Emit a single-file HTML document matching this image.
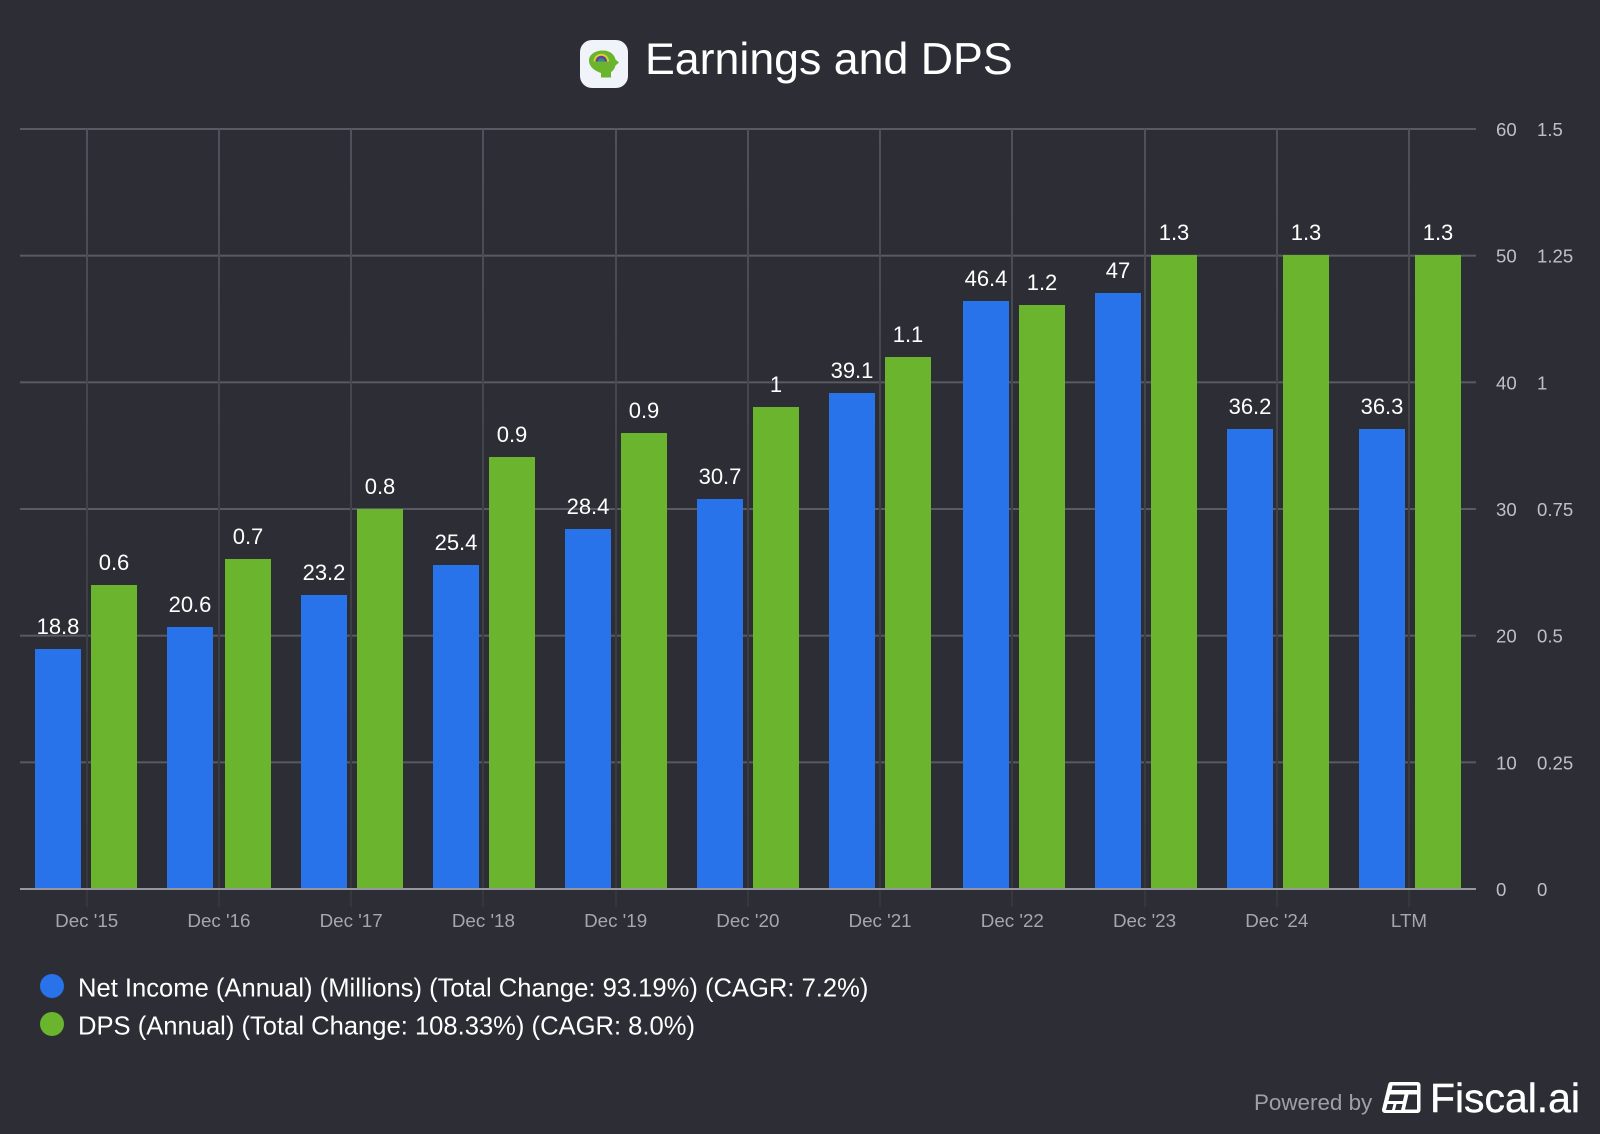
<!DOCTYPE html>
<html lang="en">
<head>
<meta charset="utf-8">
<title>Earnings and DPS</title>
<style>
html,body{margin:0;padding:0;background:#2c2d35;}
body{width:1600px;height:1134px;overflow:hidden;}
svg{display:block;font-family:"Liberation Sans",Arial,sans-serif;}
</style>
</head>
<body>
<svg id="chart" width="1600" height="1134" viewBox="0 0 1600 1134" xmlns="http://www.w3.org/2000/svg">
  <defs>
    <linearGradient id="vgrid" gradientUnits="userSpaceOnUse" x1="0" y1="129" x2="0" y2="907">
      <stop offset="0" stop-color="#50515a"/>
      <stop offset="0.45" stop-color="#42434a"/>
      <stop offset="1" stop-color="#36373c"/>
    </linearGradient>
  </defs>
  <rect x="0" y="0" width="1600" height="1134" fill="#2c2d35"/>

  <g>
    <rect x="580" y="40" width="48" height="48" rx="12" fill="#f0f3fa"/>
    <path d="M601 77.500V73C595 71 589 67 589 60.500C589 54.500 595 50.500 603 50.500C610 50.500 614.500 54.500 615.500 59.500L619 62.500L615.500 65.500C614.500 69 613 71 611 72V77.500Z" fill="#6bb42d"/>
    <path d="M593.500 61.500a7.750 7.750 0 0 1 15.500 0z" fill="#d8d52a"/>
    <path d="M595.500 61.500a5.750 5.750 0 0 1 11.500 0z" fill="#6a3d9a"/>
    <path d="M598 61.500a3.300 3.300 0 0 1 6.600 0z" fill="#2a8a9a"/>
  </g>
  <text x="645" y="74" font-size="44.700" fill="#ffffff">Earnings and DPS</text>

  <g id="grid"></g>
  <g id="series"></g>
  <g id="axes"></g>
  <g id="labels"></g>

  <g>
    <g>
      <circle cx="52" cy="986" r="12" fill="#2872ea"/>
      <text x="78" y="996.500" font-size="25.580" fill="#ffffff">Net Income (Annual) (Millions) (Total Change: 93.19%) (CAGR: 7.2%)</text>
    </g>
    <g>
      <circle cx="52" cy="1024" r="12" fill="#6bb42d"/>
      <text x="78" y="1034.500" font-size="25.580" fill="#ffffff">DPS (Annual) (Total Change: 108.33%) (CAGR: 8.0%)</text>
    </g>
  </g>

  <g>
    <text x="1254" y="1110" font-size="22.400" fill="#9fa0a7">Powered by</text>
    <g>
      <path d="M1391 1082h26.500a3 3 0 0 1 3 3v25a3 3 0 0 1-3 3h-32.500a3 3 0 0 1-3-3.500l6.300-25.500a3 3 0 0 1 3.200-2z" fill="#ffffff"/>
      <path d="M1392.500 1085.500h24.500v4.500h-25.500zM1390 1094.500h14.500l-1.600 6.500h-14.500zM1408.500 1094.500h8.500v15h-12z" fill="#2c2d35"/>
      <path d="M1387.500 1104h6l-1.500 6h-6zM1396.500 1104h6l-1.500 6h-6z" fill="#2c2d35"/>
    </g>
    <text x="1430" y="1112" font-size="40.900" fill="#ffffff" stroke="#ffffff" stroke-width="0.400">Fiscal.ai</text>
  </g>
</svg>
<script>
const categories = ["Dec '15","Dec '16","Dec '17","Dec '18","Dec '19","Dec '20","Dec '21","Dec '22","Dec '23","Dec '24","LTM"];
const netIncome = [18.8,20.6,23.2,25.5,28.4,30.7,39.1,46.4,47,36.2,36.3];
const netIncomeLabels = ["18.8","20.6","23.2","25.4","28.4","30.7","39.1","46.4","47","36.2","36.3"];
const dps = [0.6,0.65,0.75,0.85,0.9,0.95,1.05,1.15,1.25,1.25,1.25];
const dpsLabels = ["0.6","0.7","0.8","0.9","0.9","1","1.1","1.2","1.3","1.3","1.3"];
const leftTicks = [0,10,20,30,40,50,60];
const rightTicks = ["0","0.25","0.5","0.75","1","1.25","1.5"];
const rightTickValues = [0,0.25,0.5,0.75,1,1.25,1.5];

const NS = 'http://www.w3.org/2000/svg';
const plotBottom = 889, plotTop = 129;
const leftMax = 60, rightMax = 1.5;
function yLeft(v){ return plotBottom - (v / leftMax) * (plotBottom - plotTop); }
function yRight(v){ return plotBottom - (v / rightMax) * (plotBottom - plotTop); }
function snapOdd(v){ return 2 * Math.round((v - 1) / 2) + 1; }
function xTick(i){ return 86.7 + 132.23 * i; }
function xBlue(i){ return snapOdd(35.5 + 132.4 * i); }
function xGreen(i){ return snapOdd(91.95 + 132.3 * i); }
const barWidth = 46;

function make(tag, attrs, parent, txt){
  const el = document.createElementNS(NS, tag);
  for (const k in attrs) el.setAttribute(k, attrs[k]);
  if (txt !== undefined) el.textContent = txt;
  parent.appendChild(el);
  return el;
}
const grid = document.getElementById('grid');
const series = document.getElementById('series');
const axes = document.getElementById('axes');
const labels = document.getElementById('labels');

leftTicks.forEach(function(t){
  if (t === 0) return;
  const line = make('rect', {x:20, y:yLeft(t)-1, width:1456, height:2, fill:'#595a62'}, grid);
  
  
});
categories.forEach(function(c, i){
  const line = make('rect', {x:Math.round(xTick(i)-1), y:129, width:2, height:778, fill:'url(#vgrid)'}, grid);
  
  
});

categories.forEach(function(c, i){
  const topBlue = snapOdd(yLeft(netIncome[i]) - 1);
  const blue = make('rect', {x:xBlue(i), y:topBlue, width:barWidth, height:888-topBlue, fill:'#2872ea'}, series);
  
  
  const topGreen = snapOdd(yRight(dps[i]) - 1);
  const green = make('rect', {x:xGreen(i), y:topGreen, width:barWidth, height:888-topGreen, fill:'#6bb42d'}, series);
  
  

  const lb = make('text', {x:xBlue(i)+barWidth/2, y:topBlue-15, 'text-anchor':'middle', 'font-size':22, fill:'#ffffff'}, labels, netIncomeLabels[i]);
  
  
  const lg = make('text', {x:xGreen(i)+barWidth/2, y:topGreen-15, 'text-anchor':'middle', 'font-size':22, fill:'#ffffff'}, labels, dpsLabels[i]);
  
  

  const xl = make('text', {x:xTick(i), y:927, 'text-anchor':'middle', 'font-size':18.8, fill:'#a6a7ad'}, axes, c);
  
  
});

const baseline = make('rect', {x:20, y:888, width:1456, height:2, fill:'#97979e'}, axes);



leftTicks.forEach(function(t){
  const tl = make('text', {x:1496, y:yLeft(t)+7, 'font-size':18.6, fill:'#bfc0c4'}, axes, String(t));
  
  
});
rightTicks.forEach(function(t, i){
  const tr = make('text', {x:1537, y:yRight(rightTickValues[i])+7, 'font-size':18.6, fill:'#bfc0c4'}, axes, t);
  
  
});
</script>
</body>
</html>
